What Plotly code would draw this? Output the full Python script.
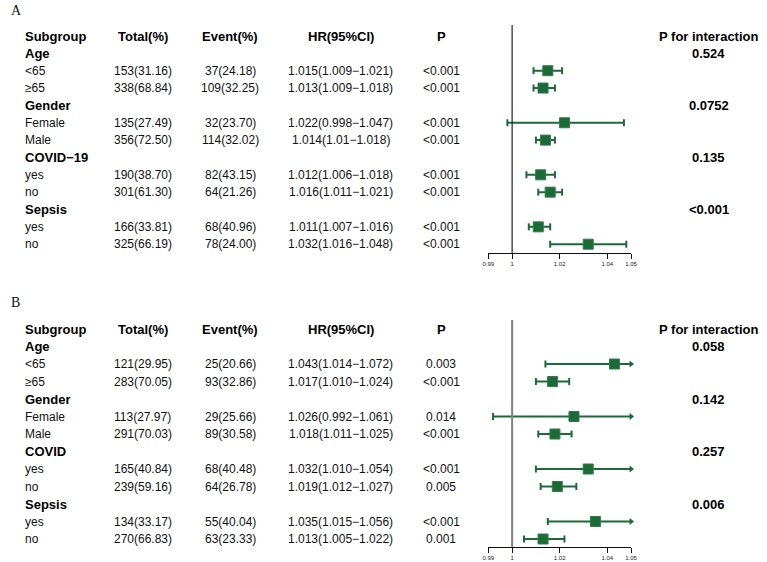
import plotly.graph_objects as go

W, H = 767, 562
GREEN = "#1b6a37"
FONT = "Liberation Sans, Arial, sans-serif"

# ---------------- Panel A data ----------------
a_labels = ["Age", "<65", "≥65", "Gender", "Female", "Male", "COVID−19", "yes", "no", "Sepsis", "yes", "no"]
a_group = [True, False, False, True, False, False, True, False, False, True, False, False]
a_total = ["", "153(31.16)", "338(68.84)", "", "135(27.49)", "356(72.50)", "", "190(38.70)", "301(61.30)", "", "166(33.81)", "325(66.19)"]
a_event = ["", "37(24.18)", "109(32.25)", "", "32(23.70)", "114(32.02)", "", "82(43.15)", "64(21.26)", "", "68(40.96)", "78(24.00)"]
a_hr = [None, 1.015, 1.013, None, 1.022, 1.014, None, 1.012, 1.016, None, 1.011, 1.032]
a_lo = [None, 1.009, 1.009, None, 0.998, 1.010, None, 1.006, 1.011, None, 1.007, 1.016]
a_hi = [None, 1.021, 1.018, None, 1.047, 1.018, None, 1.018, 1.021, None, 1.016, 1.048]
a_hrtext = ["", "1.015(1.009−1.021)", "1.013(1.009−1.018)", "", "1.022(0.998−1.047)", "1.014(1.01−1.018)", "",
            "1.012(1.006−1.018)", "1.016(1.011−1.021)", "", "1.011(1.007−1.016)", "1.032(1.016−1.048)"]
a_p = ["", "<0.001", "<0.001", "", "<0.001", "<0.001", "", "<0.001", "<0.001", "", "<0.001", "<0.001"]
a_pint = ["0.524", "", "", "0.0752", "", "", "0.135", "", "", "<0.001", "", ""]

# ---------------- Panel B data ----------------
b_labels = ["Age", "<65", "≥65", "Gender", "Female", "Male", "COVID", "yes", "no", "Sepsis", "yes", "no"]
b_group = a_group
b_total = ["", "121(29.95)", "283(70.05)", "", "113(27.97)", "291(70.03)", "", "165(40.84)", "239(59.16)", "", "134(33.17)", "270(66.83)"]
b_event = ["", "25(20.66)", "93(32.86)", "", "29(25.66)", "89(30.58)", "", "68(40.48)", "64(26.78)", "", "55(40.04)", "63(23.33)"]
b_hr = [None, 1.043, 1.017, None, 1.026, 1.018, None, 1.032, 1.019, None, 1.035, 1.013]
b_lo = [None, 1.014, 1.010, None, 0.992, 1.011, None, 1.010, 1.012, None, 1.015, 1.005]
b_hi = [None, 1.072, 1.024, None, 1.061, 1.025, None, 1.054, 1.027, None, 1.056, 1.022]
b_hrtext = ["", "1.043(1.014−1.072)", "1.017(1.010−1.024)", "", "1.026(0.992−1.061)", "1.018(1.011−1.025)", "",
            "1.032(1.010−1.054)", "1.019(1.012−1.027)", "", "1.035(1.015−1.056)", "1.013(1.005−1.022)"]
b_p = ["", "0.003", "<0.001", "", "0.014", "<0.001", "", "<0.001", "0.005", "", "<0.001", "0.001"]
b_pint = ["0.058", "", "", "0.142", "", "", "0.257", "", "", "0.006", "", ""]

headers = ["Subgroup", "Total(%)", "Event(%)", "HR(95%CI)", "P", "P for interaction"]
x_ticks = [0.99, 1, 1.02, 1.04, 1.05]
x_ticktext = ["0.99", "1", "1.02", "1.04", "1.05"]
X_MIN, X_MAX = 0.99, 1.05

# column pixel positions (layout)
COL_SUB = 17
COL_TOT = 139
COL_EVT = 228
COL_HR = 340
COL_P = 442
COL_PINT = 714
PLOT_L, PLOT_R = 490, 635

panels = [
    dict(name="A", xa="x", ya="y", label_y=10, header_px=36, pitch=17.35, axis_px=253, top_px=25,
         refcolor="#222222", refwidth=1.2,
         labels=a_labels, group=a_group, total=a_total, event=a_event, hr=a_hr, lo=a_lo, hi=a_hi,
         hrtext=a_hrtext, p=a_p, pint=a_pint),
    dict(name="B", xa="x2", ya="y2", label_y=302, header_px=329, pitch=17.5, axis_px=547, top_px=320,
         refcolor="#808080", refwidth=2,
         labels=b_labels, group=b_group, total=b_total, event=b_event, hr=b_hr, lo=b_lo, hi=b_hi,
         hrtext=b_hrtext, p=b_p, pint=b_pint),
]

fig = go.Figure()
annotations = []
shapes = []
layout_axes = {}


def px(x):
    return x / W


def py(y):
    return 1 - y / H


for i, pn in enumerate(panels):
    xa, ya = pn["xa"], pn["ya"]
    # rows: header = 0, then -1, -2, ...
    rows = [-(k + 1) for k in range(len(pn["labels"]))]

    # CI lines
    lx, ly = [], []
    cap_x, cap_y, arr_x, arr_y = [], [], [], []
    est_x, est_y = [], []
    for r, e, lo, hi in zip(rows, pn["hr"], pn["lo"], pn["hi"]):
        if e is None:
            continue
        right = min(hi, X_MAX)
        lx += [lo, right, None]
        ly += [r, r, None]
        cap_x.append(lo)
        cap_y.append(r)
        if hi > X_MAX:
            arr_x.append(X_MAX)
            arr_y.append(r)
        else:
            cap_x.append(hi)
            cap_y.append(r)
        est_x.append(e)
        est_y.append(r)

    fig.add_trace(go.Scatter(x=lx, y=ly, mode="lines", line=dict(color=GREEN, width=2),
                             xaxis=xa, yaxis=ya, showlegend=False, hoverinfo="skip", cliponaxis=False))
    fig.add_trace(go.Scatter(x=cap_x, y=cap_y, mode="markers",
                             marker=dict(symbol="line-ns", size=5, line=dict(color=GREEN, width=2)),
                             xaxis=xa, yaxis=ya, showlegend=False, hoverinfo="skip", cliponaxis=False))
    if arr_x:
        fig.add_trace(go.Scatter(x=arr_x, y=arr_y, mode="markers",
                                 marker=dict(symbol="triangle-right", size=6, color=GREEN),
                                 xaxis=xa, yaxis=ya, showlegend=False, hoverinfo="skip", cliponaxis=False))
    fig.add_trace(go.Scatter(x=est_x, y=est_y, mode="markers",
                             marker=dict(symbol="square", size=10, color=GREEN,
                                         line=dict(color="#2e7d46", width=1)),
                             xaxis=xa, yaxis=ya, showlegend=False, hoverinfo="skip", cliponaxis=False))

    # axes
    bottom = -(pn["axis_px"] - pn["header_px"]) / pn["pitch"]
    top = (pn["header_px"] - pn["top_px"]) / pn["pitch"]
    xkey = "xaxis" if xa == "x" else "xaxis2"
    ykey = "yaxis" if ya == "y" else "yaxis2"
    layout_axes[xkey] = dict(domain=[px(PLOT_L), px(PLOT_R)], range=[X_MIN, X_MAX], anchor=ya,
                             showline=True, linecolor="#111111", linewidth=1, ticks="outside",
                             ticklen=5, tickwidth=1, tickcolor="#111111", tickvals=x_ticks,
                             ticktext=x_ticktext, tickfont=dict(size=6, color="#222222", family=FONT),
                             showgrid=False, zeroline=False, fixedrange=True)
    layout_axes[ykey] = dict(domain=[py(pn["axis_px"]), py(pn["top_px"])], range=[bottom, top],
                             anchor=xa, visible=False, showgrid=False, zeroline=False, fixedrange=True)

    # reference line at HR = 1
    shapes.append(dict(type="line", xref=xa, yref=f"{ya} domain", x0=1, x1=1, y0=0, y1=1,
                       line=dict(color=pn["refcolor"], width=pn["refwidth"])))

    # panel label
    annotations.append(dict(text=pn["name"], xref="paper", yref="paper", x=px(3), y=py(pn["label_y"]),
                            xanchor="left", yanchor="middle", showarrow=False,
                            font=dict(family="Liberation Serif, Times New Roman, serif", size=14, color="#111")))

    # headers
    hx = [(COL_SUB, "left"), (COL_TOT, "center"), (COL_EVT, "center"), (COL_HR, "center"),
          (COL_P, "center"), (COL_PINT, "center")]
    for (cx, anc), h in zip(hx, headers):
        annotations.append(dict(text=f"<b>{h}</b>", xref="paper", yref=ya, x=px(cx), y=0,
                                xanchor=anc, yanchor="middle", showarrow=False,
                                font=dict(family=FONT, size=13, color="#000")))

    # rows
    for k, r in enumerate(rows):
        lab = pn["labels"][k]
        if pn["group"][k]:
            annotations.append(dict(text=f"<b>{lab}</b>", xref="paper", yref=ya, x=px(COL_SUB), y=r,
                                    xanchor="left", yanchor="middle", showarrow=False,
                                    font=dict(family=FONT, size=13, color="#000")))
        else:
            annotations.append(dict(text=lab, xref="paper", yref=ya, x=px(COL_SUB), y=r,
                                    xanchor="left", yanchor="middle", showarrow=False,
                                    font=dict(family=FONT, size=12, color="#111")))
        for cx, txt in [(COL_TOT, pn["total"][k]), (COL_EVT, pn["event"][k]),
                        (COL_HR, pn["hrtext"][k]), (COL_P, pn["p"][k])]:
            if txt:
                annotations.append(dict(text=txt, xref="paper", yref=ya, x=px(cx), y=r,
                                        xanchor="center", yanchor="middle", showarrow=False,
                                        font=dict(family=FONT, size=12, color="#111")))
        if pn["pint"][k]:
            annotations.append(dict(text=f"<b>{pn['pint'][k]}</b>", xref="paper", yref=ya, x=px(COL_PINT), y=r,
                                    xanchor="center", yanchor="middle", showarrow=False,
                                    font=dict(family=FONT, size=13, color="#000")))

fig.update_layout(width=W, height=H, margin=dict(l=0, r=0, t=0, b=0),
                  paper_bgcolor="white", plot_bgcolor="white",
                  annotations=annotations, shapes=shapes, showlegend=False, **layout_axes)

fig.write_html("out.html")
